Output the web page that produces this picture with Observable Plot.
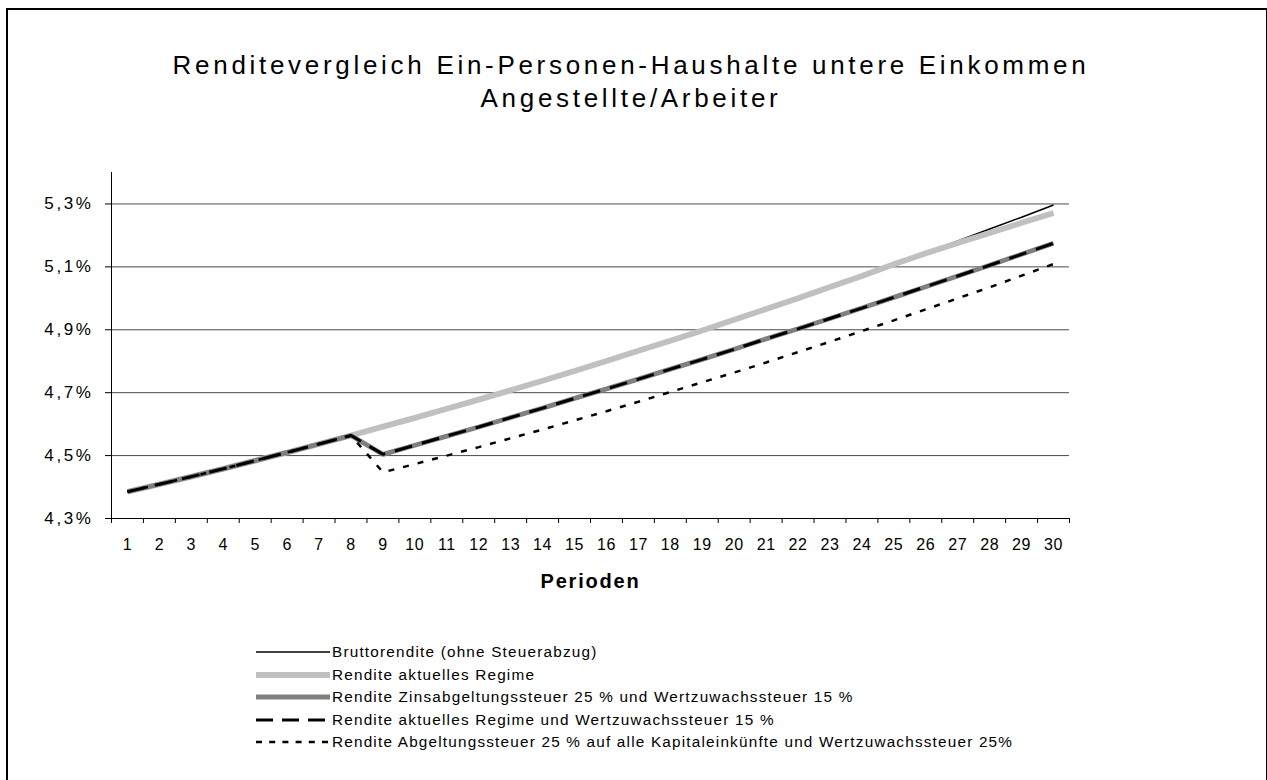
<!DOCTYPE html>
<html>
<head>
<meta charset="utf-8">
<script src="https://cdn.jsdelivr.net/npm/d3@7"></script>
<script src="https://cdn.jsdelivr.net/npm/@observablehq/plot@0.6"></script>
<style>
  html, body { margin: 0; padding: 0; background: #fff; overflow: hidden; width: 1267px; height: 780px; }
  body { position: relative; font-family: "Liberation Sans", Arial, sans-serif; color: #000; }
  #frame { position: absolute; left: 6px; top: 8px; width: 1262px; height: 800px; border: 2px solid #000; box-sizing: border-box; }
  #title { position: absolute; left: 0; top: 49px; width: 1262px; text-align: center; font-size: 26px; line-height: 33px; letter-spacing: 3.7px; }
  #chart { position: absolute; left: 0; top: 150px; }
  #chart g[aria-label="y-axis tick label"] text { letter-spacing: 2.6px; }
  #chart g[aria-label="x-axis tick label"] text { letter-spacing: 0.6px; }
  .leg { position: absolute; left: 256px; height: 22px; display: flex; align-items: center; font-size: 15.3px; letter-spacing: 1.2px; white-space: nowrap; }
  .leg svg { display: block; margin-right: 2px; }
</style>
</head>
<body>
<div id="frame"></div>
<div id="title">Renditevergleich Ein-Personen-Haushalte untere Einkommen<br>Angestellte/Arbeiter</div>
<div id="chart"></div>
<div id="legend"></div>
<script>
const periods = [1,2,3,4,5,6,7,8,9,10,11,12,13,14,15,16,17,18,19,20,21,22,23,24,25,26,27,28,29,30];
const yTicks = [4.3, 4.5, 4.7, 4.9, 5.1, 5.3];

const seriesNames = [
  "Bruttorendite (ohne Steuerabzug)",
  "Rendite aktuelles Regime",
  "Rendite Zinsabgeltungssteuer 25 % und Wertzuwachssteuer 15 %",
  "Rendite aktuelles Regime und Wertzuwachssteuer 15 %",
  "Rendite Abgeltungssteuer 25 % auf alle Kapitaleinkünfte und Wertzuwachssteuer 25%"
];

const brutto = [4.385,4.409,4.433,4.458,4.484,4.510,4.537,4.564,4.592,4.620,4.649,4.678,4.708,4.738,4.769,4.801,4.833,4.865,4.898,4.932,4.966,5.000,5.036,5.071,5.108,5.144,5.182,5.220,5.258,5.297];
const aktuell = [4.385,4.409,4.433,4.458,4.484,4.510,4.537,4.564,4.592,4.620,4.649,4.678,4.708,4.738,4.769,4.801,4.833,4.865,4.898,4.932,4.966,5.000,5.036,5.071,5.108,5.143,5.176,5.208,5.240,5.271];
const zinsWz = [4.385,4.409,4.433,4.458,4.484,4.510,4.537,4.564,4.504,4.533,4.562,4.591,4.621,4.651,4.682,4.712,4.743,4.775,4.806,4.838,4.871,4.903,4.936,4.969,5.003,5.037,5.071,5.105,5.140,5.175];
const aktuellWz = [4.385,4.409,4.433,4.458,4.484,4.510,4.537,4.564,4.504,4.533,4.562,4.591,4.621,4.651,4.682,4.712,4.743,4.775,4.806,4.838,4.871,4.903,4.936,4.969,5.003,5.037,5.071,5.105,5.140,5.175];
const abgeltung = [4.385,4.409,4.433,4.458,4.484,4.510,4.537,4.564,4.447,4.473,4.500,4.527,4.555,4.583,4.612,4.641,4.671,4.702,4.733,4.764,4.796,4.829,4.862,4.896,4.930,4.965,5.000,5.035,5.072,5.109];

const seriesValues = [brutto, aktuell, zinsWz, aktuellWz, abgeltung];
const styles = [
  {stroke: "#000", strokeWidth: 1.6, dash: null, legDash: null},
  {stroke: "#c0c0c0", strokeWidth: 5.8, dash: null, legDash: null},
  {stroke: "#808080", strokeWidth: 4.8, dash: null, legDash: null},
  {stroke: "#000", strokeWidth: 3, dash: "18,10", legDash: "17,9"},
  {stroke: "#000", strokeWidth: 2.5, dash: "6,9", legDash: "6,7.2"}
];

const fmt = d => d.toFixed(1).replace(".", ",") + "%";

const lineMarks = seriesValues.map((vals, i) =>
  Plot.line(periods.map((p, j) => ({p, v: vals[j]})), {
    x: "p", y: "v",
    stroke: styles[i].stroke,
    strokeWidth: styles[i].strokeWidth,
    strokeDasharray: styles[i].dash,
    strokeLinejoin: "miter",
    strokeLinecap: "butt"
  })
);

const chart = Plot.plot({
  width: 1267,
  height: 460,
  marginLeft: 111,
  marginRight: 198,
  marginTop: 22,
  marginBottom: 92,
  style: {fontFamily: "'Liberation Sans', Arial, sans-serif", background: "transparent", color: "#000"},
  x: {type: "linear", domain: [0.5, 30.5]},
  y: {domain: [4.3, 5.4]},
  marks: [
    Plot.ruleY(yTicks.filter(t => t > 4.3), {stroke: "#4a4a4a", strokeWidth: 1}),
    Plot.axisY({ticks: yTicks, tickSize: 6, tickPadding: 12, tickFormat: fmt, fontSize: 17, label: null, stroke: "#000"}),
    Plot.axisX({ticks: periods, tickSize: 0, tickPadding: 20, tickFormat: d => String(d), fontSize: 16, label: null}),
    Plot.axisX({ticks: d3.range(0.5, 31, 1), tickSize: 5, tickFormat: () => "", label: null, stroke: "#000"}),
    ...lineMarks,
    Plot.ruleY([4.3], {stroke: "#000", strokeWidth: 1}),
    Plot.ruleX([0.5], {stroke: "#000", strokeWidth: 1}),
    Plot.text(["Perioden"], {text: d => d, frameAnchor: "bottom", dy: 69, lineAnchor: "bottom", fontSize: 20, fontWeight: "bold"})
  ]
});
chart.querySelectorAll('g[aria-label="text"] text').forEach(t => t.style.letterSpacing = "1.8px");
document.getElementById("chart").appendChild(chart);

// legend
const legend = document.getElementById("legend");
seriesNames.forEach((name, i) => {
  const row = document.createElement("div");
  row.className = "leg";
  row.style.top = (641 + i * 22.6) + "px";
  const s = styles[i];
  row.innerHTML = `<svg width="74" height="22"><line x1="0" x2="74" y1="11" y2="11" stroke="${s.stroke}" stroke-width="${s.strokeWidth}" ${s.legDash ? `stroke-dasharray="${s.legDash}"` : ""}/></svg><span>${name}</span>`;
  legend.appendChild(row);
});
</script>
</body>
</html>
